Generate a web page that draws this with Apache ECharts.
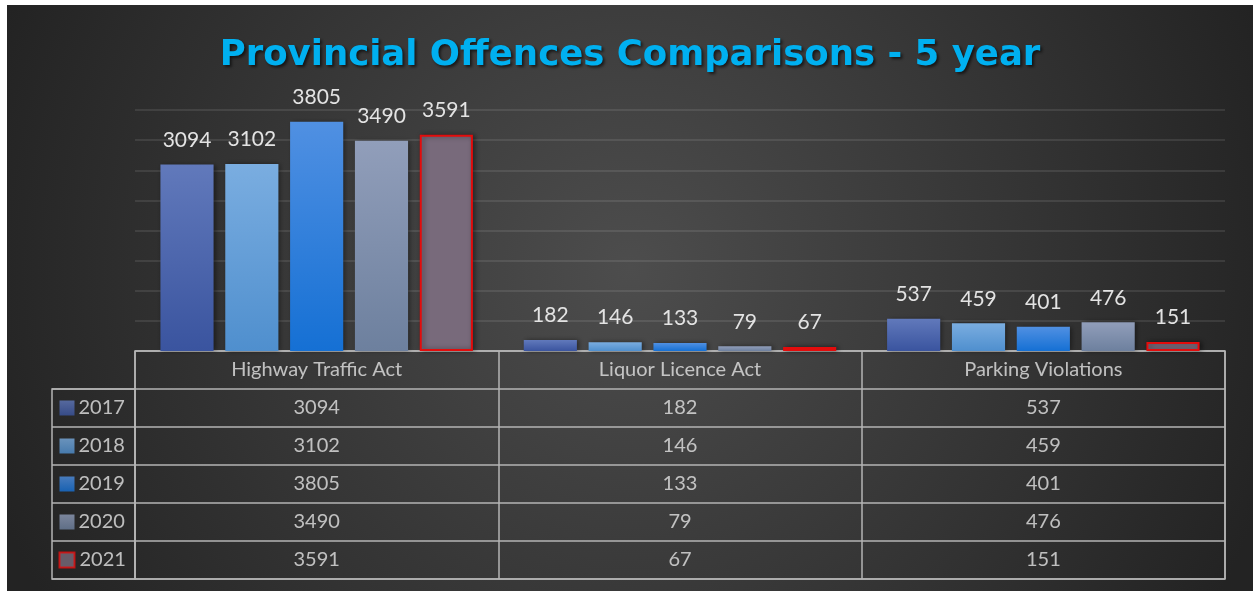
<!DOCTYPE html>
<html>
<head>
<meta charset="utf-8">
<script src="https://cdn.jsdelivr.net/npm/echarts@6/dist/echarts.min.js"></script>
<style>
  html, body { margin: 0; padding: 0; background: #fff; }
  #chart { position: absolute; left: 7px; top: 5px; width: 1246px; height: 586px; }
</style>
</head>
<body>
<div id="chart"></div>
<script>
// data
const categories = ['Highway Traffic Act', 'Liquor Licence Act', 'Parking Violations']
const years = ['2017', '2018', '2019', '2020', '2021']
const v2017 = [3094, 182, 537]
const v2018 = [3102, 146, 459]
const v2019 = [3805, 133, 401]
const v2020 = [3490, 79, 476]
const v2021 = [3591, 67, 151]
const values = [v2017, v2018, v2019, v2020, v2021]

const grad = (top, bottom) => new echarts.graphic.LinearGradient(0, 0, 0, 1, [
  { offset: 0, color: top },
  { offset: 1, color: bottom }
])
const fills = [
  grad('#6179bb', '#3a549f'),
  grad('#7aade0', '#4f8fce'),
  grad('#5090e2', '#1570d4'),
  grad('#919eba', '#6d809e'),
  '#786a7b'
]
const borders = [null, null, null, null, '#e30c0c']

const font = 'Lato'
const txt = '#e3e3e3'
const lineCol = '#b4b4b4'

const chart = echarts.init(document.getElementById('chart'))

const barSeries = years.map((y, i) => ({
  name: y,
  type: 'bar',
  xAxisIndex: 0,
  yAxisIndex: 0,
  barGap: '22%',
  barCategoryGap: '14%',
  data: values[i],
  itemStyle: {
    color: fills[i],
    borderColor: borders[i] || 'transparent',
    borderWidth: borders[i] ? 2 : 0,
    shadowColor: 'rgba(0,0,0,0.45)',
    shadowBlur: 5,
    shadowOffsetX: 2,
    shadowOffsetY: 0
  },
  label: {
    show: true,
    position: 'top',
    distance: 14,
    color: txt,
    fontFamily: font,
    fontSize: 21
  }
}))

// table cells (header row + one row per year)
const cellData = []
categories.forEach((c, ci) => {
  cellData.push({ value: [ci, 0], text: c })
})
years.forEach((y, ri) => {
  values[ri].forEach((v, ci) => {
    cellData.push({ value: [ci, ri + 1], text: String(v) })
  })
})

const legendData = years.map((y, i) => ({
  value: [15, i],
  text: y,
  itemStyle: {
    color: fills[i],
    borderColor: borders[i] || 'transparent',
    borderWidth: borders[i] ? 2 : 0
  }
}))

const option = {
  backgroundColor: new echarts.graphic.RadialGradient(0.5, 0.45, 1.15, [
    { offset: 0, color: '#4d4d4d' },
    { offset: 1, color: '#232323' }
  ]),
  animation: false,
  title: {
    text: 'Provincial Offences Comparisons - 5 year',
    left: 'center',
    top: 28,
    textStyle: {
      color: '#00b0f0',
      fontFamily: 'DejaVu Sans',
      fontWeight: 'bold',
      fontSize: 35.5,
      textShadowColor: 'rgba(0,0,0,0.6)',
      textShadowBlur: 3,
      textShadowOffsetX: 2,
      textShadowOffsetY: 2
    }
  },
  grid: [
    { left: 128, top: 105, width: 1090, height: 241 },
    { left: 128, top: 346, width: 1090, height: 228, show: true, borderColor: lineCol, borderWidth: 1.5 },
    { left: 45, top: 384, width: 83, height: 190, show: true, borderColor: lineCol, borderWidth: 1.5 }
  ],
  xAxis: [
    {
      gridIndex: 0,
      type: 'category',
      data: categories,
      axisLine: { show: false },
      axisTick: { show: false },
      axisLabel: { show: false }
    },
    {
      gridIndex: 1,
      type: 'category',
      data: categories,
      boundaryGap: true,
      axisLine: { show: false },
      axisTick: { show: false },
      axisLabel: { show: false },
      splitLine: { show: true, lineStyle: { color: lineCol, width: 1.5 } }
    },
    {
      gridIndex: 2,
      type: 'value',
      min: 0,
      max: 83,
      show: false
    }
  ],
  yAxis: [
    {
      gridIndex: 0,
      type: 'value',
      min: 0,
      max: 4000,
      interval: 500,
      axisLine: { show: false },
      axisTick: { show: false },
      axisLabel: { show: false },
      splitLine: { lineStyle: { color: 'rgba(255,255,255,0.13)', width: 1.5 } }
    },
    {
      gridIndex: 1,
      type: 'category',
      data: ['', ...years],
      inverse: true,
      boundaryGap: true,
      axisLine: { show: false },
      axisTick: { show: false },
      axisLabel: { show: false },
      splitLine: { show: true, lineStyle: { color: lineCol, width: 1.5 } }
    },
    {
      gridIndex: 2,
      type: 'category',
      data: years,
      inverse: true,
      boundaryGap: true,
      axisLine: { show: false },
      axisTick: { show: false },
      axisLabel: { show: false },
      splitLine: { show: true, lineStyle: { color: lineCol, width: 1.5 } }
    }
  ],
  series: [
    ...barSeries,
    {
      type: 'scatter',
      xAxisIndex: 1,
      yAxisIndex: 1,
      symbolSize: 1,
      itemStyle: { color: 'rgba(0,0,0,0)' },
      data: cellData,
      label: {
        show: true,
        position: 'inside',
        color: txt,
        fontFamily: font,
        fontSize: 20,
        formatter: p => p.data.text
      }
    },
    {
      type: 'scatter',
      xAxisIndex: 2,
      yAxisIndex: 2,
      symbol: 'rect',
      symbolSize: 15,
      data: legendData,
      label: {
        show: true,
        position: 'right',
        distance: 4,
        color: txt,
        fontFamily: font,
        fontSize: 20,
        formatter: p => p.data.text
      }
    }
  ]
}

chart.setOption(option)
</script>
</body>
</html>
